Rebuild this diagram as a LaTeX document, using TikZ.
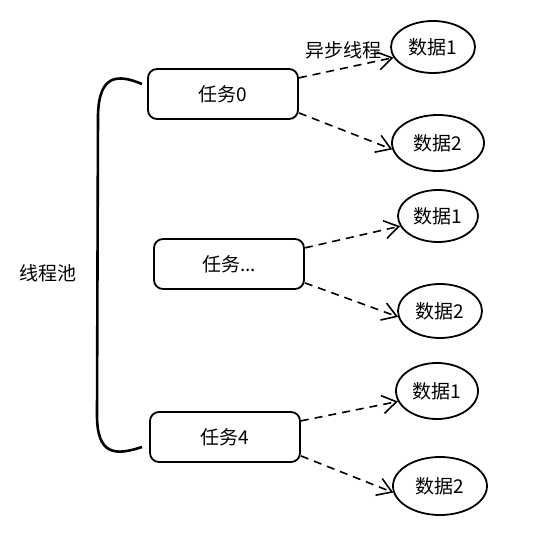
\documentclass[tikz,border=0pt]{standalone}
\usepackage{fontspec}
\setmainfont{Noto Sans CJK SC}
\usetikzlibrary{shapes.geometric,arrows.meta}

\begin{document}
\begin{tikzpicture}[x=1pt, y=-1pt, font=\fontsize{19}{22}\selectfont,
    task/.style={draw, line width=1.8pt, rounded corners=9pt, minimum width=150pt, minimum height=50pt},
    data/.style={draw, line width=1.8pt, ellipse, inner sep=0pt},
    flow/.style={line width=1.6pt, dash pattern=on 8pt off 6pt, >={Straight Barb[length=14pt,width=18pt]}, ->}]
    \useasboundingbox (0,0) rectangle (556,537);
    % Draw the tasks
    \node[task] (t0) at (223,94) {任务0};
    \node[task] (t1) at (229,264) {任务...};
    \node[task] (t4) at (225,437) {任务4};
    % Draw the data of each task
    \node[data, minimum width=84pt, minimum height=52pt] (d01) at (433,47) {数据1};
    \node[data, minimum width=92pt, minimum height=56pt] (d02) at (438,143) {数据2};
    \node[data, minimum width=80pt, minimum height=52pt] (d11) at (438,216) {数据1};
    \node[data, minimum width=84pt, minimum height=54pt] (d12) at (440,311) {数据2};
    \node[data, minimum width=82pt, minimum height=56pt] (d41) at (437,391) {数据1};
    \node[data, minimum width=94pt, minimum height=58pt] (d42) at (440,486) {数据2};
    % Draw the asynchronous threads
    \draw[flow] (t0.12) -- (d01.195);
    \draw[flow] (t0.-14) -- (d02.188);
    \draw[flow] (t1.12) -- (d11.195);
    \draw[flow] (t1.-14) -- (d12.188);
    \draw[flow] (t4.12) -- (d41.195);
    \draw[flow] (t4.-14) -- (d42.188);
    \node (async) at (343,50) {异步线程};
    % Draw the brace of the pool
    \coordinate (ptop) at (142,84);
    \coordinate (pbot) at (142,447);
    \draw[line width=2.6pt] (ptop) .. controls (118,74) and (99,74) .. (98,115)
        -- (97,415) .. controls (97,455) and (115,456) .. (pbot);
    \node (pool) at (48,273) {线程池};
\end{tikzpicture}
\end{document}
